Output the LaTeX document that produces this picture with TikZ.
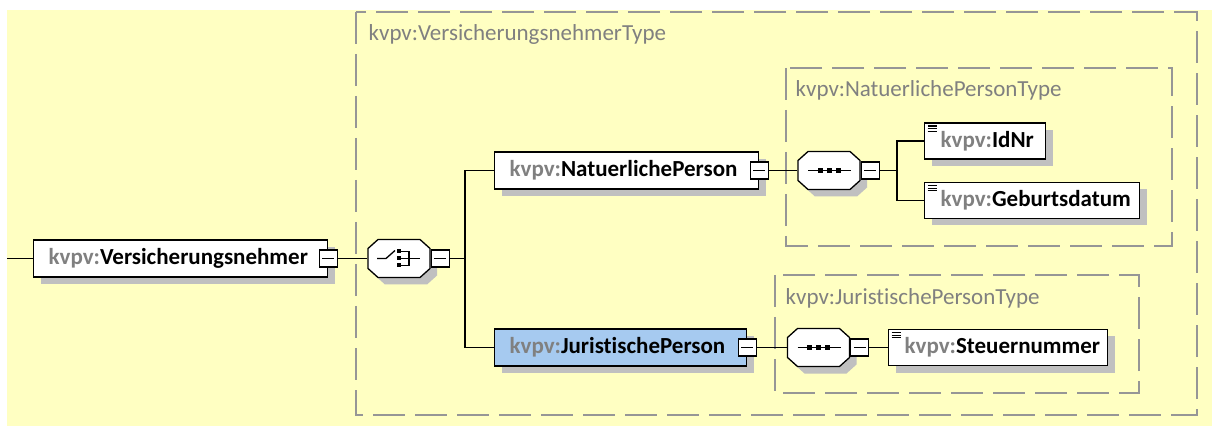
\documentclass[tikz,border=0pt]{standalone}
\usepackage{fontspec}
\setmainfont{Carlito}[Ligatures=NoCommon]
\usetikzlibrary{shadows}

\definecolor{xsdyellow}{RGB}{255,255,194}
\definecolor{xsdblue}{RGB}{166,202,240}
\definecolor{xsdgray}{RGB}{128,128,128}
\definecolor{dashgray}{RGB}{150,150,150}
\definecolor{shadowgray}{RGB}{192,192,192}

\newcommand{\kv}{{\color{xsdgray}kvpv:}}
% octagon round a compositor, relative to its centre
\newcommand{\octagonpath}{(-21,-19) -- (21,-19) -- (31,-10) -- (31,10) -- (21,19) -- (-21,19) -- (-31,10) -- (-31,-10) -- cycle}

\tikzset{
  elem/.style={draw, line width=1.3pt, fill=white, minimum height=37pt,
    inner xsep=15pt, inner ysep=0pt, text width=#1, align=left, anchor=west,
    font=\bfseries\fontsize{23}{27}\selectfont,
    drop shadow={shadow xshift=7pt, shadow yshift=-7pt, fill=shadowgray, opacity=1}},
  leaf/.style={elem=#1, minimum height=36pt, inner xsep=16pt,
    path picture={\foreach \i in {3pt,5.7pt,8.4pt}
      \draw[line width=1.2pt] ([xshift=3pt, yshift=-\i]path picture bounding box.north west) -- ++(9pt,0pt);}},
  minusbox/.style={draw, fill=white, line width=1.3pt, minimum width=18pt,
    minimum height=17pt, inner sep=0pt,
    path picture={\draw[line width=1.3pt] ([xshift=3pt]path picture bounding box.west) -- ([xshift=-3pt]path picture bounding box.east);}},
  compositor/.style={minimum width=62pt, minimum height=38pt, inner sep=0pt},
  typebox/.style={draw=dashgray, line width=1.5pt, dash pattern=on 32pt off 10pt},
  typelabel/.style={anchor=base west, inner sep=0pt, text=xsdgray,
    font=\fontsize{23}{27}\selectfont},
}

\begin{document}
\begin{tikzpicture}[x=1pt, y=-1pt, line width=1.3pt]
  % background
  \useasboundingbox (0,0) rectangle (1212,427);
  \fill[white] (0,0) rectangle (1212,427);
  \fill[xsdyellow] (7,10) rectangle (1212,426);

  % complex types
  \draw[typebox] (356,12) rectangle (1197,415);
  \draw[typebox] (786,68) rectangle (1172,246);
  \draw[typebox] (775,275) rectangle (1139,393);
  \node[typelabel] (vnType) at (368,41) {kvpv:VersicherungsnehmerType};
  \node[typelabel] (npType) at (795,97) {kvpv:NatuerlichePersonType};
  \node[typelabel] (jpType) at (785,305) {kvpv:JuristischePersonType};

  % elements
  \coordinate (start) at (7,258.5);
  \node[elem=264pt] (vn) at (33,258.5) {\kv Versicherungsnehmer};
  \node[compositor] (ch) at (399,258.5) {};
  \coordinate (chJoin) at (465,258.5);

  \node[elem=234pt] (np) at (494,170.5) {\kv NatuerlichePerson};
  \node[compositor] (sqa) at (829,170.5) {};
  \coordinate (sqaJoin) at (897,170.5);
  \node[leaf=89pt] (idnr) at (924,141) {\kv IdNr};
  \node[leaf=183pt] (geb) at (924,200.5) {\kv Geburtsdatum};

  \node[elem=222pt, fill=xsdblue] (jp) at (494,347.5) {\kv JuristischePerson};
  \node[compositor] (sqb) at (818.5,347.5) {};
  \node[leaf=187pt] (steuer) at (888,347.5) {\kv Steuernummer};

  % compositor octagons
  \foreach \s in {ch,sqa,sqb} {
    \begin{scope}[shift={(\s.center)}]
      \fill[shadowgray, shift={(7,7)}] \octagonpath;
      \draw[fill=white] \octagonpath;
    \end{scope}
  }

  % choice symbol
  \begin{scope}[shift={(ch.center)}]
    \draw (-22,0) -- (-13,0) -- (-4,-8);
    \foreach \dy in {-7,0,7}
      \fill (-2,\dy-2) rectangle (2,\dy+2);
    \draw (1,-7) -- (10,-7) -- (10,7) -- (1,7);
    \draw (1,0) -- (21,0);
  \end{scope}

  % sequence symbols
  \foreach \s in {sqa,sqb} {
    \begin{scope}[shift={(\s.center)}]
      \draw (-21,0) -- (22,0);
      \foreach \dx in {-9,0,9}
        \fill (\dx-2.5,-2.5) rectangle (\dx+2.5,2.5);
    \end{scope}
  }

  % collapse buttons
  \node[minusbox] (vnMin) at (vn.east) {};
  \node[minusbox, anchor=west] (chMin) at (ch.east) {};
  \node[minusbox] (npMin) at (np.east) {};
  \node[minusbox, anchor=west] (sqaMin) at (sqa.east) {};
  \node[minusbox] (jpMin) at (jp.east) {};
  \node[minusbox, anchor=west] (sqbMin) at (sqb.east) {};

  % connectors
  \draw (start) -- (vn.west);
  \draw (vnMin) -- (ch);
  \draw (chMin) -- (chJoin);
  \draw (np.west) -| (chJoin) |- (jp.west);
  \draw (npMin) -- (sqa);
  \draw (sqaMin) -- (sqaJoin);
  \draw (idnr.west) -| (sqaJoin) |- (geb.west);
  \draw (jpMin) -- (sqb);
  \draw (sqbMin) -- (steuer);
\end{tikzpicture}
\end{document}
